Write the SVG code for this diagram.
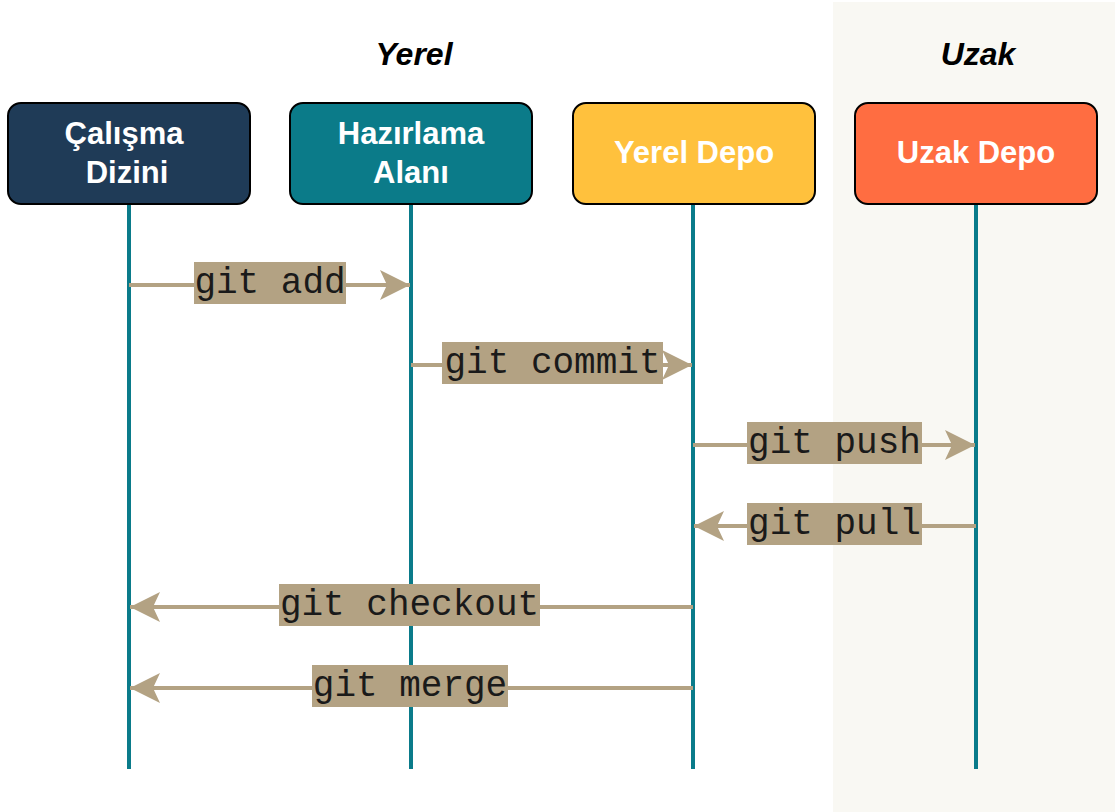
<svg xmlns="http://www.w3.org/2000/svg" width="1115" height="812" viewBox="0 0 1115 812">
<defs>
<style>
.box{stroke:#000;stroke-width:2}
.nt{font-family:"Liberation Sans",Arial,sans-serif;font-weight:bold;font-size:31px;fill:#fff;text-anchor:middle}
.hd{font-family:"Liberation Sans",Arial,sans-serif;font-weight:bold;font-style:italic;font-size:32px;fill:#000;text-anchor:middle}
.life{stroke:#0a7b8a;stroke-width:4;fill:none}
.msg{stroke:#b3a283;stroke-width:4;fill:none}
.lb{fill:#b3a283}
.lt{font-family:"Liberation Mono","Courier New",monospace;font-size:36px;fill:#1a1a1a;text-anchor:middle}
</style>
<marker id="ah" markerUnits="userSpaceOnUse" viewBox="0 0 30 30" refX="30" refY="15" markerWidth="30" markerHeight="30" orient="auto">
<path d="M0,0 L30,15 L0,30 L7,15 Z" fill="#b3a283"/>
</marker>
</defs>
<rect x="833" y="2" width="282" height="810" fill="#f9f8f3"/>
<text class="hd" x="414" y="65">Yerel</text>
<text class="hd" x="978" y="65">Uzak</text>
<g id="lifelines">
<line class="life" x1="129" y1="204" x2="129" y2="769"/>
<line class="life" x1="411" y1="204" x2="411" y2="769"/>
<line class="life" x1="693" y1="204" x2="693" y2="769"/>
<line class="life" x1="976" y1="204" x2="976" y2="769"/>
</g>
<g id="node-calisma"><rect class="box" x="8" y="103" width="242" height="101" rx="13" fill="#1f3b57"/><text class="nt" x="124" y="144">Çalışma</text><text class="nt" x="127" y="183">Dizini</text></g>
<g id="node-hazirlama"><rect class="box" x="290" y="103" width="242" height="101" rx="13" fill="#0b7b89"/><text class="nt" x="411" y="144">Hazırlama</text><text class="nt" x="411" y="183">Alanı</text></g>
<g id="node-yerel"><rect class="box" x="573" y="103" width="242" height="101" rx="13" fill="#ffc13d"/><text class="nt" x="694" y="163">Yerel Depo</text></g>
<g id="node-uzak"><rect class="box" x="855" y="103" width="242" height="101" rx="13" fill="#ff6d41"/><text class="nt" x="976" y="163">Uzak Depo</text></g>
<g id="connectors">
<line class="msg" x1="129" y1="285" x2="410" y2="285" marker-end="url(#ah)"/>
<rect class="lb" x="194" y="262" width="152" height="42"/><text class="lt" x="270" y="293">git add</text>
<line class="msg" x1="411" y1="365" x2="692" y2="365" marker-end="url(#ah)"/>
<rect class="lb" x="442" y="342" width="221" height="42"/><text class="lt" x="552.5" y="373">git commit</text>
<line class="msg" x1="693" y1="445" x2="975" y2="445" marker-end="url(#ah)"/>
<rect class="lb" x="747" y="422" width="175" height="42"/><text class="lt" x="834.5" y="453">git push</text>
<line class="msg" x1="976" y1="526" x2="694" y2="526" marker-end="url(#ah)"/>
<rect class="lb" x="747" y="503" width="175" height="42"/><text class="lt" x="834.5" y="534">git pull</text>
<line class="msg" x1="693" y1="607" x2="130" y2="607" marker-end="url(#ah)"/>
<rect class="lb" x="279" y="584" width="261" height="42"/><text class="lt" x="409.5" y="615">git checkout</text>
<line class="msg" x1="693" y1="688" x2="130" y2="688" marker-end="url(#ah)"/>
<rect class="lb" x="312" y="665" width="196" height="42"/><text class="lt" x="410" y="696">git merge</text>
</g>
</svg>
